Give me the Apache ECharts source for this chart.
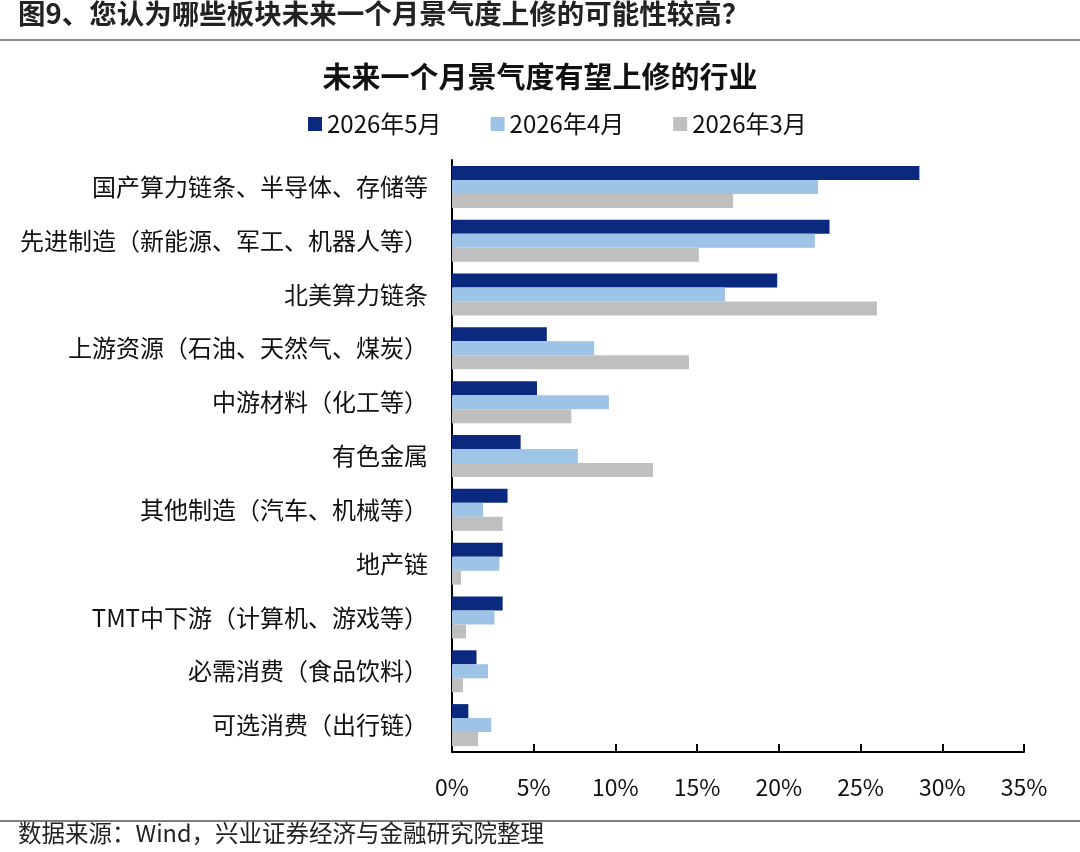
<!DOCTYPE html>
<html><head><meta charset="utf-8">
<script src="https://cdn.jsdelivr.net/npm/echarts@6/dist/echarts.min.js"></script>
<style>
html,body{margin:0;padding:0;background:#fff;}
#c{width:1080px;height:852px;}
</style></head>
<body><div id="c"></div>
<script>
const categories = ['国产算力链条、半导体、存储等','先进制造（新能源、军工、机器人等）','北美算力链条','上游资源（石油、天然气、煤炭）','中游材料（化工等）','有色金属','其他制造（汽车、机械等）','地产链','TMT中下游（计算机、游戏等）','必需消费（食品饮料）','可选消费（出行链）'];
const seriesNames = ['2026年5月','2026年4月','2026年3月'];
const may = [28.6,23.1,19.9,5.8,5.2,4.2,3.4,3.1,3.1,1.5,1.0];
const apr = [22.4,22.2,16.7,8.7,9.6,7.7,1.9,2.9,2.6,2.2,2.4];
const mar = [17.2,15.1,26.0,14.5,7.3,12.3,3.1,0.55,0.86,0.67,1.6];
const colors = ['#0B2A7F','#9DC3E6','#BFBFBF'];
const FONT = '"Noto Sans CJK SC", "Noto Sans", sans-serif';
const chart = echarts.init(document.getElementById('c'));
const dataSets = [may, apr, mar];
chart.setOption({
  backgroundColor:'#fff',
  textStyle:{fontFamily:FONT},
  graphic:[
    {type:'text',left:18,top:0,style:{text:'图9、您认为哪些板块未来一个月景气度上修的可能性较高？',font:'bold 27.5px '+FONT,fill:'#222'}},
    {type:'line',shape:{x1:0,y1:40,x2:1080,y2:40},style:{stroke:'#666',lineWidth:1.5}},
    {type:'line',shape:{x1:0,y1:821,x2:1080,y2:821},style:{stroke:'#555',lineWidth:1.5}},
    {type:'text',left:18,top:821,style:{text:'数据来源：Wind，兴业证券经济与金融研究院整理',font:'23.5px '+FONT,fill:'#222'}}
  ],
  title:{text:'未来一个月景气度有望上修的行业',left:'center',top:57,textStyle:{fontSize:29,fontWeight:'bold',color:'#111',fontFamily:FONT}},
  legend:{top:107,left:303,itemWidth:14,itemHeight:14,itemGap:49,icon:'rect',
    textStyle:{fontSize:24,color:'#111',fontFamily:FONT},data:seriesNames},
  grid:{left:452,right:56,top:160,bottom:100,containLabel:false},
  xAxis:{type:'value',min:0,max:35,interval:5,
    axisLine:{show:true,lineStyle:{color:'#000',width:2}},
    axisTick:{show:true,inside:true,length:8,lineStyle:{color:'#000',width:2}},
    splitLine:{show:false},
    axisLabel:{formatter:'{value}%',fontSize:23,color:'#111',margin:24,fontFamily:FONT}},
  yAxis:{type:'category',data:categories,inverse:true,
    axisLine:{show:true,lineStyle:{color:'#000',width:2}},
    axisTick:{show:false},
    axisLabel:{fontSize:24,color:'#111',margin:24,fontFamily:FONT}},
  series: seriesNames.map((n,i)=>({name:n,type:'bar',data:dataSets[i],barGap:'0%',barCategoryGap:'22%',
    itemStyle:{color:colors[i]},emphasis:{disabled:true}}))
});
</script></body></html>
